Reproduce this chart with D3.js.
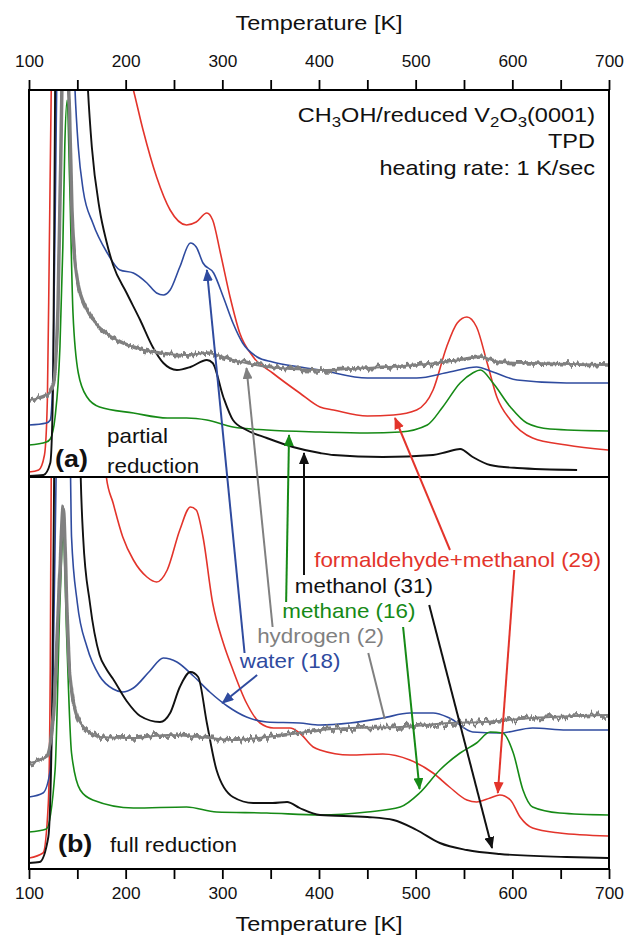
<!DOCTYPE html>
<html>
<head>
<meta charset="utf-8">
<script src="https://cdn.jsdelivr.net/npm/d3@7"></script>
<style>
  body { margin: 0; background: #fff; }
  text { font-family: "Liberation Sans", Arial, Helvetica, sans-serif; }
</style>
</head>
<body>
<div id="chart"></div>
<script>
const W = 630, H = 939;
const X0 = 29, X1 = 609;          // plot left / right
const TOP = 90, MID = 477, BOT = 869;
const SX = 1.12;                  // the figure is a bit wide, stretch the text too

const COLORS = { red: "#e3342b", blue: "#2f4b9f", green: "#168a16", gray: "#808080", black: "#111111" };

// temperature [K], intensity (arb. units) -- panel (a) partial reduction
const redA = [[100,5],[110,7],[116,22],[119,77],[121,227],[123,387],[126,520],[135,620],[150,600],[170,520],[190,450],[208,387],[218,347],[232,300],[246,267],[263,252],[273,255],[284,264],[290,257],[298,224],[308,180],[318,144],[332,120],[352,104],[380,84],[401,70],[415,67],[450,61],[477,62],[501,67],[518,87],[532,130],[543,154],[553,160],[563,150],[574,114],[584,80],[598,57],[621,39],[656,32],[699,27]];
const blueA = [[100,52],[118,54],[122,57],[125,110],[128.6,387],[133,650],[138,700],[144,500],[147.6,387],[151,330],[156,287],[166,254],[181,224],[194,207],[208,204],[222,194],[232,184],[239,182],[246,187],[256,210],[267,234],[273,230],[280,214],[291,204],[301,180],[311,154],[321,134],[336,120],[352,115],[380,110],[401,107],[450,99],[501,99],[535,105],[563,110],[580,105],[605,97],[656,94],[699,94]];
const grayA = [[100,77],[118,82],[125,92],[130,170],[134,387],[137,560],[141,387],[142,364],[144.5,264],[150,197],[160,167],[173,150],[191,137],[208,130],[235,124],[263,122],[284,124],[311,117],[346,110],[401,107],[450,109],[501,112],[546,117],[567,120],[587,115],[621,114],[699,112]];
const greenA = [[100,32],[118,35],[122,38],[127,60],[132,130],[135,230],[137,330],[139.5,377],[142,297],[145.5,164],[151,104],[160,80],[173,70],[208,64],[243,59],[263,59],[284,57],[311,50],[346,47],[401,45],[450,44],[484,45],[512,52],[528,70],[546,94],[559,104],[567,107],[580,94],[598,70],[615,54],[639,48],[699,46]];
const blackA = [[100,1],[115,2],[122,14],[125,97],[127,387],[135,800],[150,700],[161,387],[165,330],[173,268],[180,236],[187,212],[201,184],[215,157],[228,130],[239,114],[253,107],[267,110],[284,117],[290,114],[301,80],[311,57],[325,47],[346,39],[373,30],[401,24],[415,22],[466,20],[518,22],[532,25],[546,28],[559,20],[577,12],[605,9],[667,7]];

// panel (b) full reduction
const redB = [[100,11],[114.5,16],[120,66],[122,199],[123,392],[130,700],[150,700],[170,520],[180,392],[187,366],[197,332],[208,309],[222,292],[232,287],[243,299],[256,339],[267,362],[273,359],[280,332],[290,266],[301,226],[311,199],[325,166],[339,146],[353,141],[370,141],[380,136],[394,122],[401,119],[432,114],[466,115],[494,109],[518,96],[535,82],[553,69],[563,67],[577,71],[587,74],[598,69],[608,52],[621,41],[649,36],[699,33]];
const blueB = [[100,72],[114.5,76],[122,99],[125,200],[128,392],[134,650],[140,600],[143,392],[144,332],[150,266],[160,222],[173,193],[187,180],[197,177],[208,181],[225,198],[239,211],[253,207],[270,193],[287,177],[305,163],[325,152],[346,147],[380,146],[401,144],[432,146],[466,151],[494,156],[518,156],[535,151],[559,137],[587,136],[621,141],[656,139],[699,139]];
const grayB = [[100,106],[118,112],[125,149],[132,299],[135.5,362],[139,266],[142,199],[150,152],[160,139],[173,132],[208,131],[243,134],[277,132],[311,129],[346,132],[380,136],[401,139],[432,141],[484,142],[535,146],[570,147],[621,151],[699,154]];
const greenB = [[100,37],[118,40],[127,99],[132,266],[135.5,334],[139,232],[144,116],[153,79],[166,69],[208,61],[263,62],[294,57],[346,56],[401,54],[450,57],[484,62],[504,76],[525,99],[546,116],[563,126],[577,137],[590,136],[601,116],[611,79],[621,62],[649,56],[699,54]];
const blackB = [[100,6],[111,7],[120,32],[124,166],[126,392],[135,800],[150,600],[153.5,392],[156,332],[163,266],[173,214],[180,200],[187,190],[201,168],[215,153],[235.5,147],[246,156],[256,182],[267,197],[275,192],[284,146],[294,99],[311,72],[332,66],[352,66],[367,67],[380,61],[401,54],[450,52],[477,49],[501,39],[525,26],[553,19],[587,15],[656,12],[699,11]];

const xTicks = [100,150,200,250,300,350,400,450,500,550,600,650,700];

const curveLabels = [
  { text: "formaldehyde+methanol (29)", color: "red",   T: 395, v: 302 },
  { text: "methanol (31)",              color: "black", T: 375, v: 276 },
  { text: "methane (16)",               color: "green", T: 362, v: 251 },
  { text: "hydrogen (2)",               color: "gray",  T: 336, v: 226 },
  { text: "water (18)",                 color: "blue",  T: 318, v: 201 }
];

// arrows: [panel, T, intensity]
const arrowList = [
  { color: "blue",  from: ["b",323,216],   to: ["a",284,207] },
  { color: "blue",  from: ["b",336,194],   to: ["b",300,166] },
  { color: "gray",  from: ["b",352,242],   to: ["a",325,109] },
  { color: "gray",  from: ["b",451,216],   to: ["b",468,150], noHead: true },
  { color: "green", from: ["b",366,267],   to: ["a",369,42] },
  { color: "green", from: ["b",487,242],   to: ["b",504,80] },
  { color: "black", from: ["b",384.5,294], to: ["a",384.5,24] },
  { color: "black", from: ["b",514,264],   to: ["b",579,21] },
  { color: "red",   from: ["b",535.5,319], to: ["a",478.6,59] },
  { color: "red",   from: ["b",602,299],   to: ["b",585,76] }
];

const svg = d3.select("#chart").append("svg")
  .attr("width", W).attr("height", H);

const x = d3.scaleLinear().domain([100, 700]).range([X0, X1]);
const yScales = {
  a: d3.scaleLinear().domain([0, 387]).range([MID, TOP]),
  b: d3.scaleLinear().domain([0, 392]).range([BOT, MID])
};

const defs = svg.append("defs");
defs.append("clipPath").attr("id", "clip-a").append("rect")
  .attr("x", X0).attr("y", TOP).attr("width", X1 - X0).attr("height", MID - TOP);
defs.append("clipPath").attr("id", "clip-b").append("rect")
  .attr("x", X0).attr("y", MID).attr("width", X1 - X0).attr("height", BOT - MID);

// rough look of the noisy hydrogen signal (a style, not data)
// only vertical shift: green channel forced to 0.5 -> no x displacement
[["noise-a", 10, 4], ["noise-b", 14, 9]].forEach(([id, sc, seed]) => {
  const f = defs.append("filter").attr("id", id)
    .attr("filterUnits", "userSpaceOnUse")
    .attr("x", 0).attr("y", 0).attr("width", W).attr("height", H)
    .attr("color-interpolation-filters", "sRGB");
  f.append("feTurbulence").attr("type", "fractalNoise")
    .attr("baseFrequency", "0.3 0.02").attr("numOctaves", 2).attr("seed", seed)
    .attr("result", "t");
  const ct = f.append("feComponentTransfer").attr("in", "t").attr("result", "t2");
  ct.append("feFuncG").attr("type", "linear").attr("slope", 0).attr("intercept", 0.5);
  ct.append("feFuncA").attr("type", "linear").attr("slope", 0).attr("intercept", 1);
  f.append("feDisplacementMap").attr("in", "SourceGraphic").attr("in2", "t2")
    .attr("scale", sc).attr("xChannelSelector", "G").attr("yChannelSelector", "R");
});

Object.keys(COLORS).forEach(c => {
  defs.append("marker").attr("id", "head-" + c)
    .attr("markerUnits", "userSpaceOnUse")
    .attr("viewBox", "0 0 12 10")
    .attr("markerWidth", 12).attr("markerHeight", 10)
    .attr("refX", 11).attr("refY", 5).attr("orient", "auto")
    .append("path").attr("d", "M0,0 L12,5 L0,10 Z").attr("fill", COLORS[c]);
});

const line = (yS) => d3.line()
  .x(d => x(d[0])).y(d => yS(d[1]))
  .curve(d3.curveMonotoneX);

const series = [
  { panel: "a", color: "red", data: redA },
  { panel: "a", color: "blue", data: blueA },
  { panel: "a", color: "green", data: greenA },
  { panel: "a", color: "black", data: blackA },
  { panel: "a", color: "gray", data: grayA },
  { panel: "b", color: "red", data: redB },
  { panel: "b", color: "blue", data: blueB },
  { panel: "b", color: "green", data: greenB },
  { panel: "b", color: "black", data: blackB },
  { panel: "b", color: "gray", data: grayB }
];

series.forEach(s => {
  const g = svg.append("g").attr("clip-path", `url(#clip-${s.panel})`);
  const d = line(yScales[s.panel])(s.data);
  if (s.color === "gray") {
    // thin steady core + jittered band around it
    g.append("path").attr("d", d).attr("fill", "none")
      .attr("stroke", COLORS.gray).attr("stroke-width", 2);
    g.append("path").attr("d", d).attr("fill", "none")
      .attr("stroke", COLORS.gray).attr("stroke-width", 3.5)
      .attr("filter", `url(#noise-${s.panel})`);
    return;
  }
  g.append("path")
    .attr("d", d)
    .attr("fill", "none")
    .attr("stroke", COLORS[s.color])
    .attr("stroke-width", s.color === "black" ? 1.9 : 1.6)
    .attr("stroke-linejoin", "round");
});

// frame + divider
svg.append("rect").attr("x", X0).attr("y", TOP)
  .attr("width", X1 - X0).attr("height", BOT - TOP)
  .attr("fill", "none").attr("stroke", "#000").attr("stroke-width", 2);
svg.append("line").attr("x1", X0).attr("x2", X1).attr("y1", MID).attr("y2", MID)
  .attr("stroke", "#000").attr("stroke-width", 2);

// axes
const fmt = d => (d % 100 === 0 ? d : "");
const topAxis = svg.append("g").attr("transform", `translate(0,${TOP})`)
  .call(d3.axisTop(x).tickValues(xTicks).tickSize(10).tickPadding(13).tickFormat(fmt));
const botAxis = svg.append("g").attr("transform", `translate(0,${BOT})`)
  .call(d3.axisBottom(x).tickValues(xTicks).tickSize(10).tickPadding(9).tickFormat(fmt));
[topAxis, botAxis].forEach(ax => {
  ax.select(".domain").remove();
  ax.selectAll(".tick line").attr("stroke", "#000").attr("stroke-width", 1.8);
  ax.selectAll(".tick text")
    .attr("fill", "#111")
    .style("font-size", "16px")
    .style("font-family", "'Liberation Sans', Arial, sans-serif")
    .attr("transform", "scale(1.08,1)");
});

function txt(px, py, s, o = {}) {
  return svg.append("text")
    .attr("transform", `translate(${px},${py}) scale(${SX},1)`)
    .attr("text-anchor", o.anchor || "start")
    .attr("fill", o.fill || "#111")
    .style("font-size", (o.size || 20) + "px")
    .style("font-weight", o.bold ? "bold" : "normal")
    .text(s);
}

txt((X0 + X1) / 2, 30, "Temperature [K]", { anchor: "middle", size: 21 });
txt((X0 + X1) / 2, 931, "Temperature [K]", { anchor: "middle", size: 21 });

// header note, top right of panel (a)
const yA = yScales.a, yB = yScales.b;
const head = txt(x(685.5), yA(355), "", { anchor: "end", size: 21 });
[["CH", 0], ["3", 1], ["OH/reduced V", 0], ["2", 1], ["O", 0], ["3", 1], ["(0001)", 0]]
  .forEach(([t, sub], i, arr) => {
    const prevSub = i > 0 ? arr[i - 1][1] : 0;
    head.append("tspan")
      .attr("dy", sub && !prevSub ? 5 : (!sub && prevSub ? -5 : 0))
      .style("font-size", sub ? "15px" : "21px")
      .text(t);
  });
txt(x(685.5), yA(329), "TPD", { anchor: "end", size: 21 });
txt(x(685.5), yA(302), "heating rate: 1 K/sec", { anchor: "end", size: 21 });

// panel tags
txt(x(126.9), yA(10), "(a)", { size: 24, bold: true });
txt(x(180.7), yA(34), "partial", { size: 20 });
txt(x(180.7), yA(4), "reduction", { size: 20 });
txt(x(130), yB(17), "(b)", { size: 24, bold: true });
txt(x(183.8), yB(17), "full reduction", { size: 20 });

// arrows
arrowList.forEach(a => {
  const l = svg.append("line")
    .attr("x1", x(a.from[1])).attr("y1", yScales[a.from[0]](a.from[2]))
    .attr("x2", x(a.to[1])).attr("y2", yScales[a.to[0]](a.to[2]))
    .attr("stroke", COLORS[a.color]).attr("stroke-width", 2);
  if (!a.noHead) l.attr("marker-end", `url(#head-${a.color})`);
});

// curve labels
curveLabels.forEach(l => {
  txt(x(l.T), yB(l.v), l.text, { fill: COLORS[l.color], size: 20 });
});
</script>
</body>
</html>
